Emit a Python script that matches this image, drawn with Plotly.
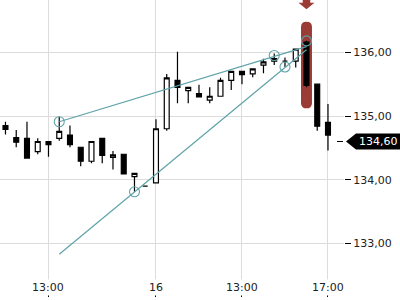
import plotly.graph_objects as go

# ---------------- data ----------------
idx = list(range(-4, 27))
opens  = [134.85,134.66,134.65,134.44,134.60,134.65,134.70,134.51,134.29,134.65,134.35,134.40,134.05,133.90,
          133.95,134.80,135.56,135.40,135.35,135.25,135.31,135.56,135.70,135.66,135.80,135.86,135.86,135.86,
          136.16,135.50,134.90]
highs  = [134.91,134.78,134.91,134.65,134.60,134.99,134.85,134.51,134.60,134.65,134.45,134.40,134.10,133.90,
          134.95,135.66,136.01,135.45,135.49,135.45,135.60,135.70,135.70,135.75,135.90,135.98,135.92,136.05,
          136.18,135.50,135.19]
lows   = [134.71,134.51,134.33,134.40,134.36,134.61,134.51,134.21,134.26,134.26,134.16,134.09,133.81,133.90,
          133.95,134.77,135.20,135.20,135.30,135.20,135.31,135.41,135.50,135.61,135.67,135.80,135.77,135.76,
          135.45,134.77,134.46]
closes = [134.79,134.59,134.34,134.60,134.55,134.76,134.55,134.29,134.60,134.38,134.39,134.09,134.10,133.90,
          134.80,135.60,135.45,135.45,135.30,135.31,135.56,135.70,135.65,135.74,135.85,135.90,135.86,136.05,
          135.48,134.84,134.70]

tick_pos = [0, 10, 18, 26]
tick_text = ["13:00", "16", "13:00", "17:00"]
y_ticks = [133, 134, 135, 136]

# trendlines (index, price)
upper_x = [1, 24]
upper_y = [134.91, 136.09]
lower_x = [1, 24]
lower_y = [132.83, 136.04]
touch_x = [1, 8, 21, 22, 24]
touch_y = [134.91, 133.81, 135.95, 135.77, 136.18]

highlight_idx = 24
highlight_top = 136.48
highlight_bottom = 135.12
last_price = 134.60

X_RANGE = [-4.51, 27.49]
Y_RANGE = [132.159, 136.821]

TEAL = "#5fa3aa"
RED = "#9b3b36"

fig = go.Figure()
fig.add_trace(go.Candlestick(
    x=idx, open=opens, high=highs, low=lows, close=closes,
    increasing=dict(line=dict(color="black", width=1.2), fillcolor="white"),
    decreasing=dict(line=dict(color="black", width=1.2), fillcolor="black"),
    whiskerwidth=0, showlegend=False, hoverinfo="skip"))

fig.add_trace(go.Scatter(x=upper_x, y=upper_y, mode="lines",
                         line=dict(color=TEAL, width=1.2), showlegend=False, hoverinfo="skip"))
fig.add_trace(go.Scatter(x=lower_x, y=lower_y, mode="lines",
                         line=dict(color=TEAL, width=1.2), showlegend=False, hoverinfo="skip"))
fig.add_trace(go.Scatter(x=touch_x, y=touch_y, mode="markers",
                         marker=dict(symbol="circle-open", size=10, color=TEAL, line=dict(width=1.1)),
                         showlegend=False, hoverinfo="skip"))

# highlight bar with rounded ends
hx0, hx1 = highlight_idx - 0.51, highlight_idx + 0.51
ry = 0.086
yt, yb = highlight_top, highlight_bottom
hpath = (f"M {hx0},{yb+ry} L {hx0},{yt-ry} Q {hx0},{yt} {highlight_idx},{yt} Q {hx1},{yt} {hx1},{yt-ry} "
         f"L {hx1},{yb+ry} Q {hx1},{yb} {highlight_idx},{yb} Q {hx0},{yb} {hx0},{yb+ry} Z")
shapes = [dict(type="path", path=hpath, xref="x", yref="y", fillcolor=RED,
               line=dict(width=0), layer="between")]

# arrow above
ytop = Y_RANGE[1]
apath = (f"M {highlight_idx-0.35},{ytop} L {highlight_idx+0.35},{ytop} L {highlight_idx+0.35},{ytop-0.042} "
         f"L {highlight_idx+0.74},{ytop-0.042} L {highlight_idx},{ytop-0.146} L {highlight_idx-0.74},{ytop-0.042} "
         f"L {highlight_idx-0.35},{ytop-0.042} Z")
shapes.append(dict(type="path", path=apath, xref="x", yref="y", fillcolor=RED, line=dict(width=0)))

# last price label
pw = 344.0
shapes.append(dict(type="path", xref="paper", yref="y",
                   path=f"M {346/pw},{last_price} L {356/pw},{last_price+0.125} L {400/pw},{last_price+0.125} "
                        f"L {400/pw},{last_price-0.125} L {356/pw},{last_price-0.125} Z",
                   fillcolor="black", line=dict(width=0)))
shapes.append(dict(type="line", xref="paper", yref="y", x0=337/pw, x1=343/pw, y0=last_price, y1=last_price,
                   line=dict(color="black", width=1)))

annotations = [dict(x=378/pw, y=last_price, xref="paper", yref="y", text=f"{last_price:.2f}".replace(".", ","),
                    showarrow=False, font=dict(color="white", size=11, family="DejaVu Sans"),
                    xanchor="center", yanchor="middle")]
for p, t in zip(tick_pos, tick_text):
    annotations.append(dict(x=p, y=10/297, xref="x", yref="paper", text=t, showarrow=False,
                            font=dict(color="#222", size=11, family="DejaVu Sans"),
                            bgcolor="white", borderpad=1, xanchor="center", yanchor="middle"))

fig.update_layout(
    width=400, height=300, margin=dict(l=0, r=56, t=0, b=3),
    paper_bgcolor="white", plot_bgcolor="white",
    separators=",.", boxgap=0.35,
    shapes=shapes, annotations=annotations,
    font=dict(family="DejaVu Sans", size=11, color="#222"),
    xaxis=dict(range=X_RANGE, tickvals=tick_pos, ticktext=tick_text, showticklabels=False,
               ticks="inside", ticklen=3, tickcolor="black", showgrid=True, gridcolor="#dcdcdc",
               zeroline=False, showline=False, rangeslider=dict(visible=False), fixedrange=True),
    yaxis=dict(range=Y_RANGE, side="right", tickvals=y_ticks, tickformat=".2f",
               ticks="outside", ticklen=6, tickcolor="black", showgrid=True, gridcolor="#dcdcdc",
               zeroline=False, showline=False, fixedrange=True),
)

fig.write_html("out.html")
